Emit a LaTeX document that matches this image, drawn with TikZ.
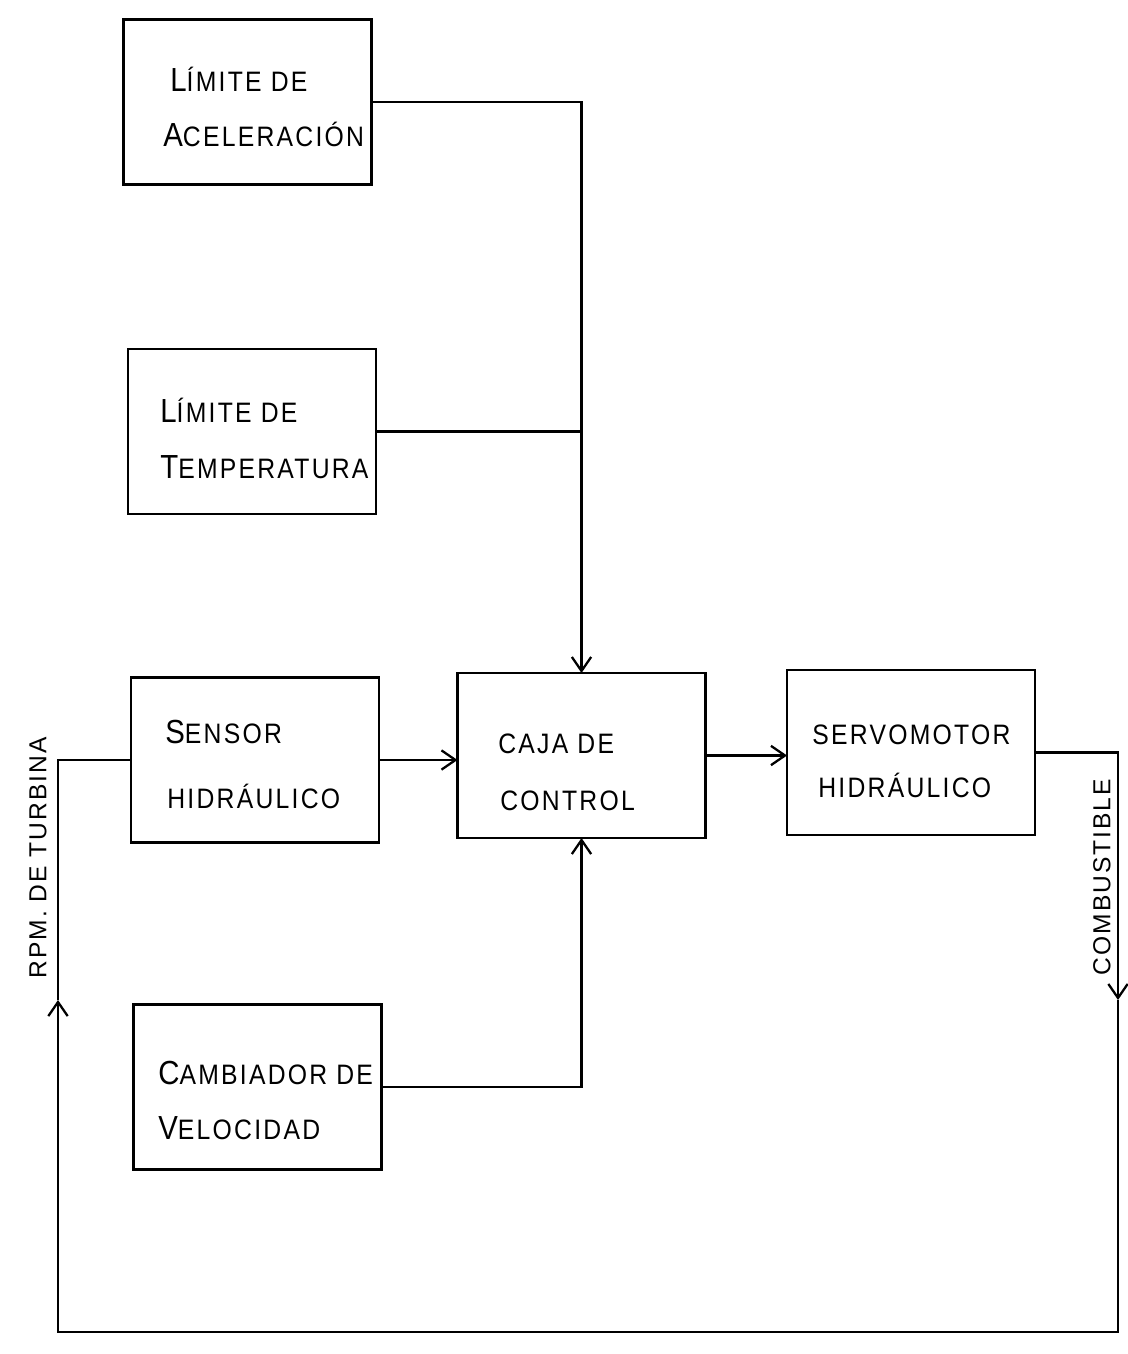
\documentclass[tikz,border=0pt]{standalone}
\usepackage{fontspec}
\setmainfont{Liberation Sans}
\newfontfamily\hand[LetterSpace=8,FakeStretch=0.88]{Liberation Sans}
\newfontfamily\handside[LetterSpace=8]{Liberation Sans}
\usetikzlibrary{arrows.meta}
\newcommand\bigini[1]{{\fontsize{19}{19}\selectfont #1}}
\begin{document}
\begin{tikzpicture}[x=0.02cm,y=-0.02cm,
  box/.style={draw,line width=1.6pt,minimum width=4.96cm,minimum height=3.3cm,inner sep=0pt,outer sep=0pt},
  txt/.style={anchor=base west,inner sep=0pt,font=\hand\fontsize{16}{16}\selectfont},
  side/.style={inner sep=0pt,font=\handside\fontsize{14}{14}\selectfont,rotate=90},
  wire/.style={line width=1.6pt},
  arr/.style={wire,-{Straight Barb[length=8pt,width=11pt,line width=1.3pt]}}]
\useasboundingbox[fill=white] (0,0) rectangle (1127,1354);

% boxes
\node[box] (acel)   at (247.5,102)  {};
\node[box] (temp)   at (252,431.5)  {};
\node[box] (sensor) at (255,760)    {};
\node[box] (caja)   at (581.5,755.5){};
\node[box] (servo)  at (911,752.5)  {};
\node[box] (camb)   at (257.5,1087) {};

% texts
\node[txt] (a1) at (170,92)  {\bigini{L}ÍMITE DE};
\node[txt] (a2) at (163,147) {\bigini{A}CELERACIÓN};
\node[txt] (b1) at (160,422) {\bigini{L}ÍMITE DE};
\node[txt] (b2) at (160,478) {\bigini{T}EMPERATURA};
\node[txt] (c1) at (165,743) {\bigini{S}ENSOR};
\node[txt] (c2) at (167,808) {HIDRÁULICO};
\node[txt] (d1) at (498,753) {CAJA DE};
\node[txt] (d2) at (500,810) {CONTROL};
\node[txt] (e1) at (812,744) {SERVOMOTOR};
\node[txt] (e2) at (818,797) {HIDRÁULICO};
\node[txt] (f1) at (158,1084) {\bigini{C}AMBIADOR DE};
\node[txt] (f2) at (158,1139) {\bigini{V}ELOCIDAD};

\node[side] (rpm)  at (38,858)   {RPM. DE TURBINA};
\node[side] (comb) at (1102,877) {COMBUSTIBLE};

% connectors
\coordinate (j2) at (caja.north |- temp.east);
\draw[arr] (acel.east) -| (caja.north);
\draw[wire] (temp.east) -- (j2);
\draw[arr] (sensor.east) -- (sensor.east -| caja.west);
\draw[arr] (caja.east) -- (caja.east -| servo.west);
\draw[arr] (camb.east) -| (caja.south);

\coordinate (fr)  at (1118,752.5);
\coordinate (fra) at (1118,1000);
\coordinate (fb1) at (1118,1332);
\coordinate (fb2) at (58,1332);
\coordinate (fla) at (58,1000);
\coordinate (fl)  at (58,760);
\draw[arr] (servo.east) -- (fr) -- (fra);
\draw[arr] (fra) -- (fb1) -- (fb2) -- (fla);
\draw[wire] (fla) -- (fl) -- (sensor.west);
\end{tikzpicture}
\end{document}
